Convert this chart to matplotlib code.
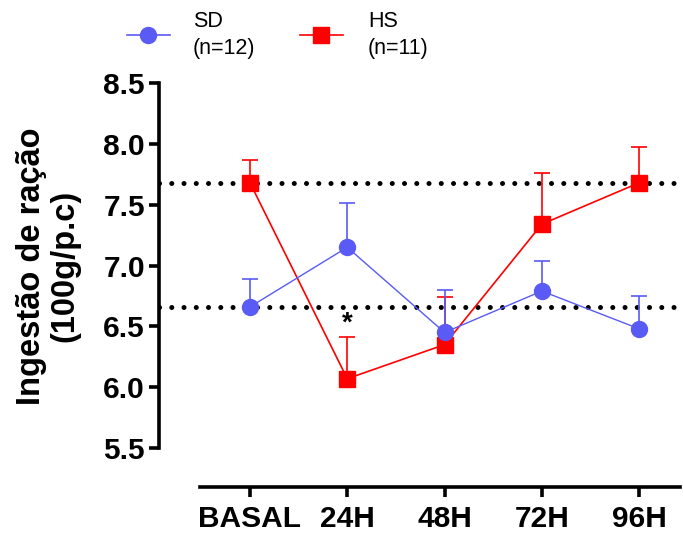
import matplotlib
matplotlib.use("Agg")
import matplotlib.pyplot as plt
from matplotlib.lines import Line2D

plt.rcParams['font.family'] = ['Liberation Sans', 'DejaVu Sans']

categories = ["BASAL", "24H", "48H", "72H", "96H"]
sd_mean = [6.66, 7.15, 6.45, 6.79, 6.48]
sd_err = [0.23, 0.36, 0.35, 0.25, 0.27]
hs_mean = [7.68, 6.07, 6.35, 7.34, 7.68]
hs_err = [0.19, 0.34, 0.39, 0.42, 0.29]
ref_lines = [7.68, 6.66]
yticks = [5.5, 6.0, 6.5, 7.0, 7.5, 8.0, 8.5]
star_pos = (1, 6.52)
legend_labels = ["SD\n(n=12)", "HS\n(n=11)"]

blue = "#5a5af5"
red = "#ff0000"

W, H = 683, 542
fig = plt.figure(figsize=(W/100, H/100), dpi=100)
ax = fig.add_axes([159/W, 1-487/H, (680-159)/W, (487-83)/H])

x = list(range(len(categories)))

for y in ref_lines:
    ax.axhline(y, color="black", lw=3.6, linestyle=(0, (0.01, 2.44)),
               dash_capstyle="round", zorder=1)

ax.errorbar(x, hs_mean, yerr=[[0]*5, hs_err], color=red, lw=1.2,
            marker="s", markersize=12, capsize=6, capthick=1.2,
            elinewidth=1.2, zorder=3)
ax.errorbar(x, sd_mean, yerr=[[0]*5, sd_err], color=blue, lw=1.0,
            marker="o", markersize=11.5, capsize=6, capthick=1.2,
            elinewidth=1.2, zorder=4)

ax.text(star_pos[0], star_pos[1], "*", ha="center", va="center",
        fontsize=20, fontweight="bold")

ax.set_xlim(-0.935, 4.42)
ax.set_ylim(5.18, 8.5)
ax.spines['top'].set_visible(False)
ax.spines['right'].set_visible(False)
ax.spines['left'].set_bounds(5.5, 8.5)
ax.spines['bottom'].set_bounds(-0.51, 4.42)
for s in ('left', 'bottom'):
    ax.spines[s].set_linewidth(2.6)
ax.set_yticks(yticks)
ax.set_yticklabels([f"{v:.1f}" for v in yticks])
ax.set_xticks(x)
ax.set_xticklabels(categories)
ax.tick_params(axis='both', width=2.6, length=7, labelsize=21.5, pad=3)
ax.tick_params(axis='x', pad=6)
for lab in ax.get_xticklabels() + ax.get_yticklabels():
    lab.set_fontweight("bold")
ax.set_ylabel("Ingestão de ração\n(100g/p.c)", fontsize=23.5, fontweight="bold",
              linespacing=1.12)
ax.yaxis.set_label_coords(-0.150, 0.547)

# legend drawn in figure pixel coordinates
leg_specs = [(127, 170, 148, "o", 11.5, blue, 193, legend_labels[0]),
             (300, 343, 321, "s", 12, red, 368, legend_labels[1])]
for x0, x1, xm, mk, ms, col, xt, lab in leg_specs:
    fig.add_artist(Line2D([x0/W, x1/W], [1-35/H, 1-35/H], color=col, lw=1.2,
                          transform=fig.transFigure))
    fig.add_artist(Line2D([xm/W], [1-35/H], color=col, marker=mk, markersize=ms,
                          lw=0, transform=fig.transFigure))
    fig.text(xt/W, 1-35/H, lab, ha="left", va="center", fontsize=15.5,
             linespacing=1.35)

fig.savefig("out.png", dpi=100)
